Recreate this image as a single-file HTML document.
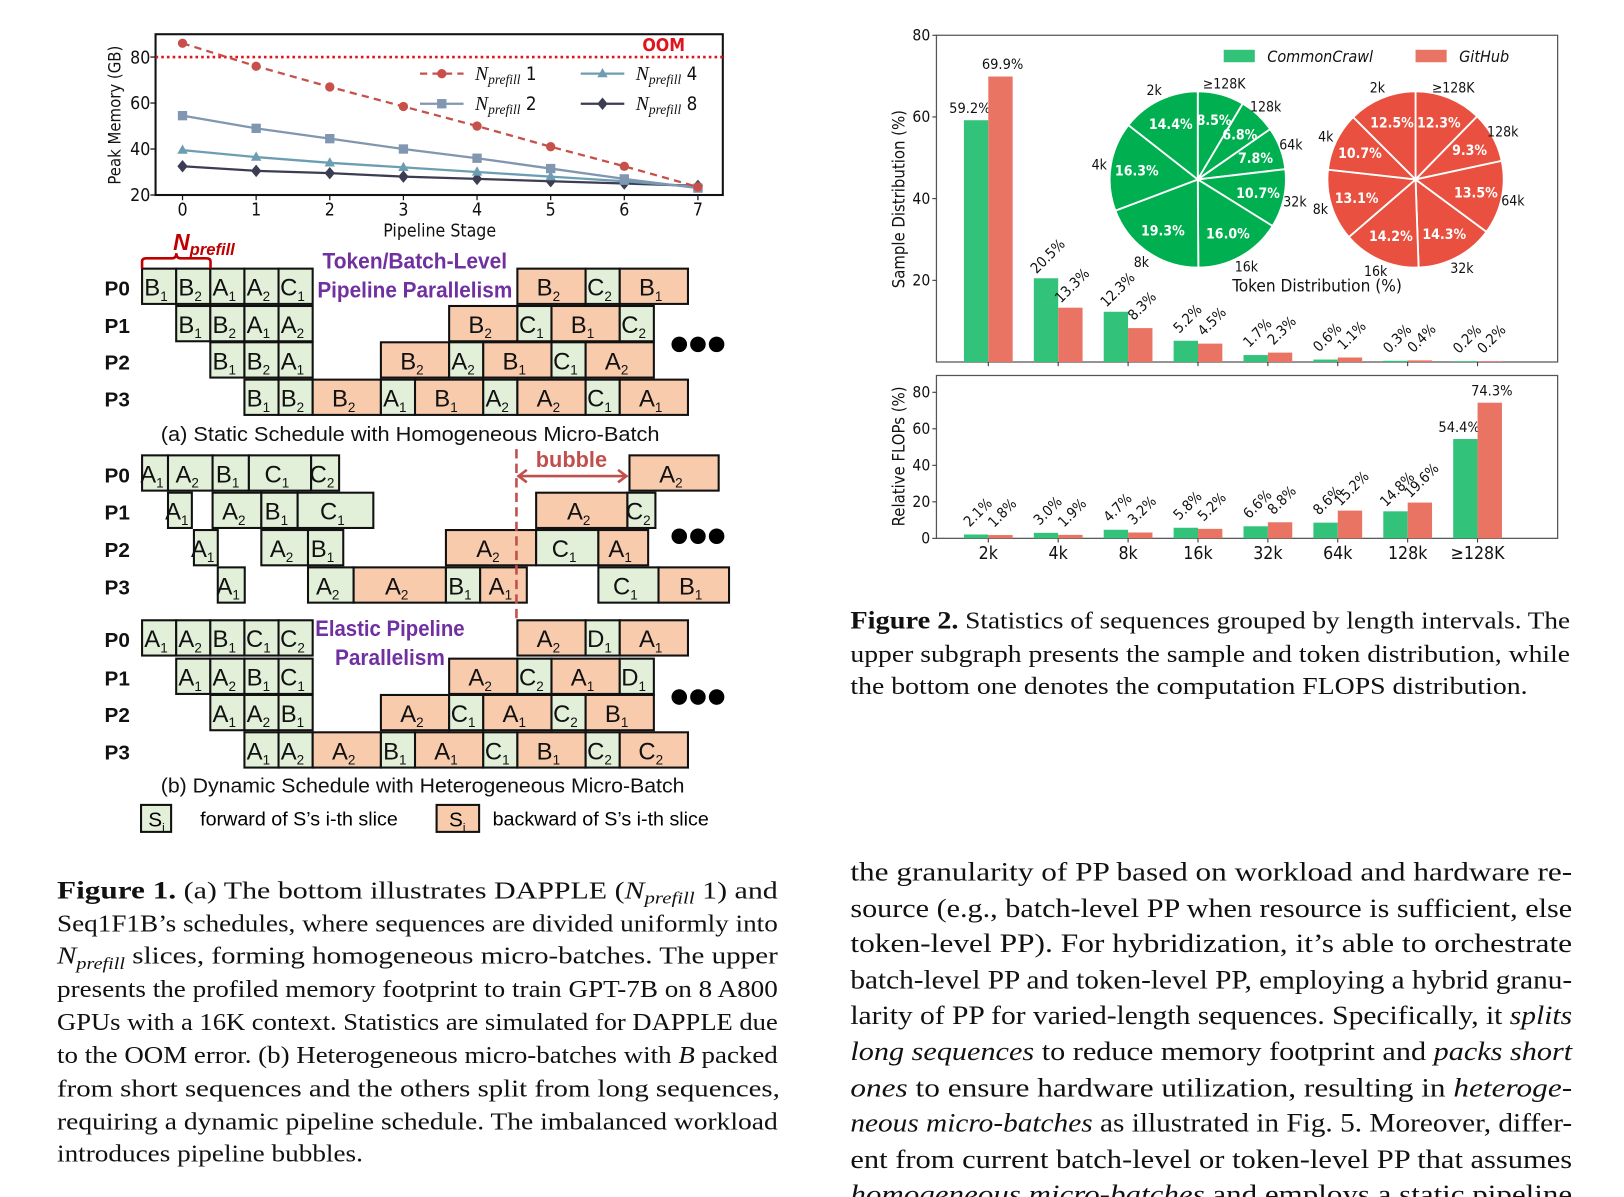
<!DOCTYPE html>
<html><head><meta charset="utf-8">
<style>
html,body{margin:0;padding:0;background:#fff;}
svg{display:block;}
.ser{font-family:"Liberation Serif",serif;}
.mp{font-family:"DejaVu Sans Condensed","DejaVu Sans",sans-serif;}
.cal{font-family:"Liberation Sans Narrow","Liberation Sans",sans-serif;}
</style></head>
<body>
<svg id="root" width="1624" height="1197" viewBox="0 0 1566 1154" preserveAspectRatio="none" xmlns="http://www.w3.org/2000/svg">
<g id="mem"></g>
<g id="sched"></g>
<g id="bars"></g>
<g id="flops"></g>
<g id="pies"></g>

<g class="ser" font-size="23" fill="#111">
<text x="55" y="866" textLength="695" lengthAdjust="spacingAndGlyphs"><tspan font-weight="bold" font-size="24">Figure 1.</tspan>  (a) The bottom illustrates DAPPLE (<tspan font-style="italic">N</tspan><tspan font-style="italic" font-size="16" dy="5">prefill</tspan><tspan dy="-5"> 1) and</tspan></text>
<text x="55" y="898" textLength="695" lengthAdjust="spacingAndGlyphs">Seq1F1B’s schedules, where sequences are divided uniformly into</text>
<text x="55" y="929" textLength="695" lengthAdjust="spacingAndGlyphs"><tspan font-style="italic">N</tspan><tspan font-style="italic" font-size="16" dy="5">prefill</tspan><tspan dy="-5"> slices, forming homogeneous micro-batches. The upper</tspan></text>
<text x="55" y="961" textLength="695" lengthAdjust="spacingAndGlyphs">presents the profiled memory footprint to train GPT-7B on 8 A800</text>
<text x="55" y="993" textLength="695" lengthAdjust="spacingAndGlyphs">GPUs with a 16K context. Statistics are simulated for DAPPLE due</text>
<text x="55" y="1025" textLength="695" lengthAdjust="spacingAndGlyphs">to the OOM error. (b) Heterogeneous micro-batches with <tspan font-style="italic">B</tspan> packed</text>
<text x="55" y="1057" textLength="697" lengthAdjust="spacingAndGlyphs">from short sequences and the others split from long sequences,</text>
<text x="55" y="1089" textLength="695" lengthAdjust="spacingAndGlyphs">requiring a dynamic pipeline schedule. The imbalanced workload</text>
<text x="55" y="1120" textLength="295" lengthAdjust="spacingAndGlyphs">introduces pipeline bubbles.</text>
</g>

<g class="ser" font-size="23" fill="#111">
<text x="820" y="606" textLength="694" lengthAdjust="spacingAndGlyphs"><tspan font-weight="bold" font-size="24">Figure 2.</tspan> Statistics of sequences grouped by length intervals. The</text>
<text x="820" y="638" textLength="694" lengthAdjust="spacingAndGlyphs">upper subgraph presents the sample and token distribution, while</text>
<text x="820" y="669" textLength="653" lengthAdjust="spacingAndGlyphs">the bottom one denotes the computation FLOPS distribution.</text>
</g>

<g class="ser" font-size="25.5" fill="#111">
<text x="820" y="849" textLength="696" lengthAdjust="spacingAndGlyphs">the granularity of PP based on workload and hardware re-</text>
<text x="820" y="884" textLength="696" lengthAdjust="spacingAndGlyphs">source (e.g., batch-level PP when resource is sufficient, else</text>
<text x="820" y="918" textLength="696" lengthAdjust="spacingAndGlyphs">token-level PP). For hybridization, it’s able to orchestrate</text>
<text x="820" y="953" textLength="696" lengthAdjust="spacingAndGlyphs">batch-level PP and token-level PP, employing a hybrid granu-</text>
<text x="820" y="987" textLength="696" lengthAdjust="spacingAndGlyphs">larity of PP for varied-length sequences. Specifically, it <tspan font-style="italic">splits</tspan></text>
<text x="820" y="1022" textLength="696" lengthAdjust="spacingAndGlyphs"><tspan font-style="italic">long sequences</tspan> to reduce memory footprint and <tspan font-style="italic">packs short</tspan></text>
<text x="820" y="1057" textLength="696" lengthAdjust="spacingAndGlyphs"><tspan font-style="italic">ones</tspan> to ensure hardware utilization, resulting in <tspan font-style="italic">heteroge-</tspan></text>
<text x="820" y="1091" textLength="696" lengthAdjust="spacingAndGlyphs"><tspan font-style="italic">neous micro-batches</tspan> as illustrated in Fig. 5. Moreover, differ-</text>
<text x="820" y="1126" textLength="696" lengthAdjust="spacingAndGlyphs">ent from current batch-level or token-level PP that assumes</text>
<text x="820" y="1160" textLength="696" lengthAdjust="spacingAndGlyphs"><tspan font-style="italic">homogeneous micro-batches</tspan> and employs a static pipeline</text>
</g>
</svg>

<script>
const NS='http://www.w3.org/2000/svg';
function mk(parent,tag,attrs,txt){const e=document.createElementNS(NS,tag);for(const k in attrs)e.setAttribute(k,attrs[k]);if(txt!==undefined)e.textContent=txt;parent.appendChild(e);return e;}

/* ===== Peak memory line chart data ===== */
const stages=[0,1,2,3,4,5,6,7];
const memN1=[86,76,67,58.5,50,41,32.5,23.5];
const memN2=[54.5,49,44.5,40,36,31.5,27,23];
const memN4=[39.5,36.5,34,32,30,28,26,23.5];
const memN8=[32.5,30.5,29.5,28,27,26,25,24];
const memTicks=[20,40,60,80];
const oomLevel=80;

/* ===== Bar chart data ===== */
const lenCats=['2k','4k','8k','16k','32k','64k','128k','≥128K'];
const sampleCC=[59.2,20.5,12.3,5.2,1.7,0.6,0.3,0.2];
const sampleGH=[69.9,13.3,8.3,4.5,2.3,1.1,0.4,0.2];
const sampleTicks=[20,40,60,80];
const flopsCC=[2.1,3.0,4.7,5.8,6.6,8.6,14.8,54.4];
const flopsGH=[1.8,1.9,3.2,5.2,8.8,15.2,19.6,74.3];
const flopsTicks=[0,20,40,60,80];

/* ===== Pie data (clockwise from top) ===== */
const pieCats=['≥128K','128k','64k','32k','16k','8k','4k','2k'];
const tokenCC=[8.5,6.8,7.8,10.7,16.0,19.3,16.3,14.4];
const tokenGH=[12.3,9.3,13.5,14.3,14.2,13.1,10.7,12.5];

/* ---------- line chart ---------- */
(function(){
const g=document.getElementById('mem');
const X0=150,X1=697,Y0=33,Y1=188;
const xs=i=>176+71*i;
const ys=v=>Y1-(v-20)*(133/60);
mk(g,'rect',{x:X0,y:Y0,width:X1-X0,height:Y1-Y0,fill:'#fff',stroke:'#111','stroke-width':2});
memTicks.forEach(t=>{
  const l=mk(g,'line',{x1:X0-5,x2:X0,y1:ys(t),y2:ys(t),stroke:'#111','stroke-width':1.2});
  
  
  const tx=mk(g,'text',{x:X0-5,y:ys(t)+6,'text-anchor':'end','font-size':17,class:'mp',fill:'#111'},t);
  
  
});
stages.forEach(s=>{
  mk(g,'line',{x1:xs(s),x2:xs(s),y1:Y1,y2:Y1+5,stroke:'#111','stroke-width':1.2});
  const tx=mk(g,'text',{x:xs(s),y:Y1+20,'text-anchor':'middle','font-size':17,class:'mp',fill:'#111'},s);
  
  
});
const xt=mk(g,'text',{x:424,y:228,'text-anchor':'middle','font-size':17,class:'mp',fill:'#111'},'Pipeline Stage');


const yt=mk(g,'text',{x:0,y:0,'text-anchor':'middle','font-size':16,class:'mp',fill:'#111',transform:'translate(116,111) rotate(-90)'},'Peak Memory (GB)');


const oom=mk(g,'line',{x1:X0,x2:X1,y1:ys(oomLevel),y2:ys(oomLevel),stroke:'#e0141e','stroke-width':2.5,'stroke-dasharray':'2.5 3'});


const ot=mk(g,'text',{x:640,y:49,'text-anchor':'middle','font-size':17,'font-weight':'bold',class:'mp',fill:'#e0141e'},'OOM');


function marker(p,type,x,y,c){
  if(type==='o') return mk(p,'circle',{cx:x,cy:y,r:4.5,fill:c});
  if(type==='s') return mk(p,'rect',{x:x-4.5,y:y-4.5,width:9,height:9,fill:c});
  if(type==='^') return mk(p,'polygon',{points:`${x},${y-5.5} ${x+5},${y+3.5} ${x-5},${y+3.5}`,fill:c});
  return mk(p,'polygon',{points:`${x},${y-6} ${x+5},${y} ${x},${y+6} ${x-5},${y}`,fill:c});
}
const series=[
 {d:memN8,c:'#3c3c52',m:'d',dash:null,name:'n8'},
 {d:memN4,c:'#6b9db3',m:'^',dash:null,name:'n4'},
 {d:memN2,c:'#8196b0',m:'s',dash:null,name:'n2'},
 {d:memN1,c:'#c8504a',m:'o',dash:'7 5',name:'n1'}];
series.forEach(s=>{
  const pts=s.d.map((v,i)=>xs(i)+','+ys(v)).join(' ');
  const pl=mk(g,'polyline',{points:pts,fill:'none',stroke:s.c,'stroke-width':2.2});
  if(s.dash)pl.setAttribute('stroke-dasharray',s.dash);
  
  
  s.d.forEach((v,i)=>{
    const m=marker(g,s.m,xs(i),ys(v),s.c);
    
    
  });
});
const leg=[{x:405,y:71,s:series[3],l:'1'},{x:405,y:100,s:series[2],l:'2'},{x:560,y:71,s:series[1],l:'4'},{x:560,y:100,s:series[0],l:'8'}];
leg.forEach(e=>{
  const lg=mk(g,'g',{});
  
  
  const ln=mk(lg,'line',{x1:e.x,x2:e.x+42,y1:e.y,y2:e.y,stroke:e.s.c,'stroke-width':2.2});
  if(e.s.dash)ln.setAttribute('stroke-dasharray',e.s.dash);
  marker(lg,e.s.m,e.x+21,e.y,e.s.c);
  const t=mk(lg,'text',{x:e.x+53,y:e.y+6,'font-size':19,class:'ser',fill:'#111'});
  mk(t,'tspan',{'font-style':'italic'},'N');
  mk(t,'tspan',{'font-style':'italic','font-size':13,dy:4},'prefill');
  mk(t,'tspan',{dy:-4,'font-size':18,class:'mp'},' '+e.l);
});
})();

/* ---------- schedule diagram ---------- */
(function(){
const g=document.getElementById('sched');
const GF='#e2efd9',OF='#f8cbad';
function cell(x1,x2,y,fill,L,sub){
  const cg=mk(g,'g',{});
  
  
  mk(cg,'rect',{x:x1,y:y,width:x2-x1,height:34,fill:fill,stroke:'#111','stroke-width':2});
  const t=mk(cg,'text',{x:(x1+x2)/2-3,y:y+26,'text-anchor':'middle','font-size':23,class:'cal',fill:'#111'});
  mk(t,'tspan',{},L);
  mk(t,'tspan',{'font-size':13,dy:5},sub);
}
const u=32.9,o=137;
function U(n){return o+u*n;}
const G='g',O='o';
const rowsA=[
 [259,[[0,1,G,'B1'],[1,2,G,'B2'],[2,3,G,'A1'],[3,4,G,'A2'],[4,5,G,'C1'],[11,13,O,'B2'],[13,14,G,'C2'],[14,16,O,'B1']]],
 [295,[[1,2,G,'B1'],[2,3,G,'B2'],[3,4,G,'A1'],[4,5,G,'A2'],[9,11,O,'B2'],[11,12,G,'C1'],[12,14,O,'B1'],[14,15,G,'C2']]],
 [330,[[2,3,G,'B1'],[3,4,G,'B2'],[4,5,G,'A1'],[7,9,O,'B2'],[9,10,G,'A2'],[10,12,O,'B1'],[12,13,G,'C1'],[13,15,O,'A2']]],
 [366,[[3,4,G,'B1'],[4,5,G,'B2'],[5,7,O,'B2'],[7,8,G,'A1'],[8,10,O,'B1'],[10,11,G,'A2'],[11,13,O,'A2'],[13,14,G,'C1'],[14,16,O,'A1']]]];
rowsA.forEach(r=>r[1].forEach(c=>cell(U(c[0]),U(c[1]),r[0],c[2]===G?GF:OF,c[3][0],c[3][1])));
const rowsB=[
 [439,[[137,162,G,'A1'],[162,205,G,'A2'],[205,240,G,'B1'],[240,300,G,'C1'],[300,327,G,'C2'],[607,693,O,'A2']]],
 [475,[[162,185,G,'A1'],[205,252,G,'A2'],[252,287,G,'B1'],[287,360,G,'C1'],[517,605,O,'A2'],[605,632,G,'C2']]],
 [511,[[187,210,G,'A1'],[252,297,G,'A2'],[297,331,G,'B1'],[430,517,O,'A2'],[517,577,G,'C1'],[577,625,O,'A1']]],
 [547,[[210,236,G,'A1'],[297,341,G,'A2'],[341,430,O,'A2'],[430,463,G,'B1'],[463,508,O,'A1'],[577,635,G,'C1'],[635,703,O,'B1']]]];
rowsB.forEach(r=>r[1].forEach(c=>cell(c[0],c[1],r[0],c[2]===G?GF:OF,c[3][0],c[3][1])));
const rowsC=[
 [598,[[0,1,G,'A1'],[1,2,G,'A2'],[2,3,G,'B1'],[3,4,G,'C1'],[4,5,G,'C2'],[11,13,O,'A2'],[13,14,G,'D1'],[14,16,O,'A1']]],
 [635,[[1,2,G,'A1'],[2,3,G,'A2'],[3,4,G,'B1'],[4,5,G,'C1'],[9,11,O,'A2'],[11,12,G,'C2'],[12,14,O,'A1'],[14,15,G,'D1']]],
 [670,[[2,3,G,'A1'],[3,4,G,'A2'],[4,5,G,'B1'],[7,9,O,'A2'],[9,10,G,'C1'],[10,12,O,'A1'],[12,13,G,'C2'],[13,15,O,'B1']]],
 [706,[[3,4,G,'A1'],[4,5,G,'A2'],[5,7,O,'A2'],[7,8,G,'B1'],[8,10,O,'A1'],[10,11,G,'C1'],[11,13,O,'B1'],[13,14,G,'C2'],[14,16,O,'C2']]]];
rowsC.forEach(r=>r[1].forEach(c=>cell(U(c[0]),U(c[1]),r[0],c[2]===G?GF:OF,c[3][0],c[3][1])));
[rowsA,rowsB,rowsC].forEach(R=>R.forEach((r,i)=>{
  const t=mk(g,'text',{x:113,y:r[0]+26,'text-anchor':'middle','font-size':20,'font-weight':'bold',class:'cal',fill:'#111'},'P'+i);
  
  
}));
[[332],[517],[672]].forEach(d=>{for(let k=0;k<3;k++){const c=mk(g,'circle',{cx:655+k*18,cy:d[0],r:7.5,fill:'#000'});}});
const purple='#7030a0';
[['Token/Batch-Level',400,259,178],['Pipeline Parallelism',400,287,188],['Elastic Pipeline',376,613,144],['Parallelism',376,641,106]].forEach(a=>{
  const t=mk(g,'text',{x:a[1]-a[3]/2,y:a[2],textLength:a[3],lengthAdjust:'spacingAndGlyphs','font-size':21,'font-weight':'bold',class:'cal',fill:purple},a[0]);
  
  
});
const br=mk(g,'path',{d:'M137,259 L137,252 Q137,249 141,249 L166,249 Q170,249 170,244 Q170,249 174,249 L199,249 Q203,249 203,252 L203,259',fill:'none',stroke:'#c00000','stroke-width':2.5});


const nt=mk(g,'text',{x:167,y:241,'font-size':22,'font-weight':'bold','font-style':'italic',class:'cal',fill:'#c00000'});


mk(nt,'tspan',{},'N');
mk(nt,'tspan',{'font-size':16,dy:5},'prefill');
const dl=mk(g,'line',{x1:498,x2:498,y1:433,y2:598,stroke:'#c0504d','stroke-width':2.5,'stroke-dasharray':'9 5'});


const ar=mk(g,'path',{d:'M500,459 L604,459 M508,453 L500,459 L508,465 M596,453 L604,459 L596,465',fill:'none',stroke:'#c0504d','stroke-width':2.5});


const bt=mk(g,'text',{x:551,y:450,'text-anchor':'middle','font-size':21,'font-weight':'bold',class:'cal',fill:'#c0504d'},'bubble');


[['(a) Static Schedule with Homogeneous Micro-Batch',155,425,481],['(b) Dynamic Schedule with Heterogeneous Micro-Batch',155,764,505]].forEach(a=>{
  const t=mk(g,'text',{x:a[1],y:a[2],textLength:a[3],lengthAdjust:'spacingAndGlyphs','font-size':20,class:'cal',fill:'#111'},a[0]);
  
  
});
const lg1=mk(g,'g',{});
mk(lg1,'rect',{x:136,y:776,width:29,height:26,fill:GF,stroke:'#111','stroke-width':2});
let t=mk(lg1,'text',{x:143,y:797,'font-size':20,class:'cal'});mk(t,'tspan',{},'S');mk(t,'tspan',{'font-size':11,dy:4},'i');
mk(lg1,'text',{x:193,y:796,'font-size':19,class:'cal'},'forward of  S’s i-th slice');
const lg2=mk(g,'g',{});
mk(lg2,'rect',{x:421,y:776,width:41,height:26,fill:OF,stroke:'#111','stroke-width':2});
t=mk(lg2,'text',{x:433,y:797,'font-size':20,class:'cal'});mk(t,'tspan',{},'S');mk(t,'tspan',{'font-size':11,dy:4},'i');
mk(lg2,'text',{x:475,y:796,'font-size':19,class:'cal'},'backward of  S’s i-th slice');
})();

/* ---------- bar charts ---------- */
const GC='#33c27a',RC='#ea7463';
const xc=i=>953+67.4*i, BW=23.5;
function barPanel(gid,X0,X1,Y0,Y1,scale,cc,gh,ticks,title,ty,horizIdx){
  const g=document.getElementById(gid);
  const ys=v=>Y1-v*scale;
  mk(g,'rect',{x:X0,y:Y0,width:X1-X0,height:Y1-Y0,fill:'#fff',stroke:'#555','stroke-width':1.2});
  ticks.forEach(tv=>{
    mk(g,'line',{x1:X0-4,x2:X0,y1:ys(tv),y2:ys(tv),stroke:'#333'});
    const tx=mk(g,'text',{x:X0-6,y:ys(tv)+5,'text-anchor':'end','font-size':15,class:'mp',fill:'#111'},tv);
    
    
  });
  const yt=mk(g,'text',{x:0,y:0,'text-anchor':'middle','font-size':16,class:'mp',fill:'#111',transform:`translate(872,${ty}) rotate(-90)`},title);
  
  
  lenCats.forEach((c,i)=>{
    mk(g,'line',{x1:xc(i),x2:xc(i),y1:Y1,y2:Y1+4,stroke:'#333'});
    [[cc,GC,-BW,'cc'],[gh,RC,0,'gh']].forEach(s=>{
      const v=s[0][i];
      const r=mk(g,'rect',{x:xc(i)+s[2],y:ys(v),width:BW,height:v*scale,fill:s[1]});
      
      
      const bx=xc(i)+s[2]+BW/2;
      let lab;
      if(horizIdx.includes(i)){
        lab=mk(g,'text',{x:bx+(s[3]==='cc'?-6:2),y:ys(v)-7,'text-anchor':'middle','font-size':14,class:'mp',fill:'#111'},v.toFixed(1)+'%');
      } else {
        lab=mk(g,'text',{x:0,y:0,'text-anchor':'middle','font-size':14,class:'mp',fill:'#111',transform:`translate(${bx+5},${ys(v)-18}) rotate(-45)`},v.toFixed(1)+'%');
      }
      
      
    });
  });
  return g;
}
barPanel('bars',903,1502,34,349,315/80,sampleCC,sampleGH,sampleTicks,'Sample Distribution (%)',192,[0]);
(function(){
 const g=barPanel('flops',903,1502,362,519,1.76,flopsCC,flopsGH,flopsTicks,'Relative FLOPs (%)',440,[7]);
 lenCats.forEach((c,i)=>{
  const t=mk(g,'text',{x:xc(i),y:539,'text-anchor':'middle','font-size':17,class:'mp',fill:'#111'},c);
  
  
 });
 const bg=document.getElementById('bars');
 [[1180,'CommonCrawl',GC],[1365,'GitHub',RC]].forEach(l=>{
  const lg=mk(bg,'g',{});
  
  
  mk(lg,'rect',{x:l[0],y:48,width:30,height:12,fill:l[2]});
  mk(lg,'text',{x:l[0]+42,y:60,'font-size':15.5,'font-style':'italic',class:'mp',fill:'#111'},l[1]);
 });
})();

/* ---------- pies ---------- */
(function(){
const g=document.getElementById('pies');
function pie(cx,cy,r,vals,color,name){
  const pg=mk(g,'g',{});
  
  
  const tot=vals.reduce((a,b)=>a+b,0);
  let a=-Math.PI/2;
  vals.forEach((v,i)=>{
    const da=v/tot*2*Math.PI, a2=a+da;
    const x1=cx+r*Math.cos(a),y1=cy+r*Math.sin(a),x2=cx+r*Math.cos(a2),y2=cy+r*Math.sin(a2);
    const p=mk(pg,'path',{d:`M${cx},${cy} L${x1},${y1} A${r},${r} 0 ${da>Math.PI?1:0} 1 ${x2},${y2} Z`,fill:color,stroke:'#fff','stroke-width':1.8});
    
    
    const m=(a+a2)/2;
    const pt=mk(pg,'text',{x:cx+r*0.7*Math.cos(m),y:cy+r*0.7*Math.sin(m)+5,'text-anchor':'middle','font-size':13.5,'font-weight':'bold',class:'mp',fill:'#fff'},v.toFixed(1)+'%');
    
    
    const nl=mk(pg,'text',{x:cx+r*1.13*Math.cos(m),y:cy+r*1.13*Math.sin(m)+5,'text-anchor':'middle','font-size':13.5,class:'mp',fill:'#111'},pieCats[i]);
    
    
    a=a2;
  });
}
pie(1155,173,85,tokenCC,'#00b050','commoncrawl');
pie(1365,173,85,tokenGH,'#e9503f','github');
const t=mk(g,'text',{x:1270,y:281,'text-anchor':'middle','font-size':16.5,class:'mp',fill:'#111'},'Token Distribution (%)');


})();
</script>
</body></html>
